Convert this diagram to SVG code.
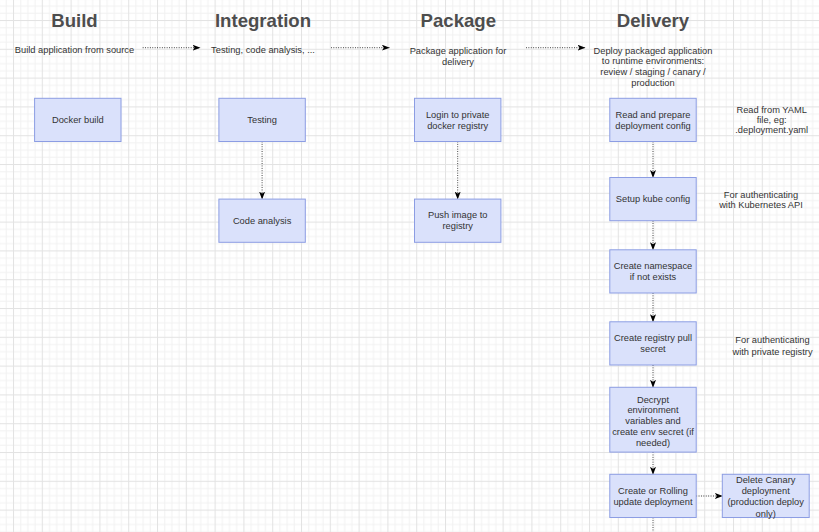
<svg xmlns="http://www.w3.org/2000/svg" width="819" height="532" viewBox="0 0 819 532">
<style>
.box{fill:#dae1fb;stroke:#8c9de3;stroke-width:1}
.t{font-family:"Liberation Sans",Arial,sans-serif;font-size:9.3px;fill:#333;text-anchor:middle}
.h{font-family:"Liberation Sans",Arial,sans-serif;font-size:18.6px;font-weight:bold;fill:#4d4d4d;text-anchor:middle}
.c{fill:none;stroke:#000;stroke-width:0.8;stroke-dasharray:0.9 1.5}
</style>
<defs>
<pattern id="grid" patternUnits="userSpaceOnUse" x="13" y="20" width="28.8" height="28.8">
<rect x="0" y="0" width="28.8" height="28.8" fill="#fff"/>
<g fill="#f2f2f2">
<rect x="7.2" y="0" width="1" height="28.8"/>
<rect x="14.4" y="0" width="1" height="28.8"/>
<rect x="21.6" y="0" width="1" height="28.8"/>
<rect x="0" y="7.2" width="28.8" height="1"/>
<rect x="0" y="14.4" width="28.8" height="1"/>
<rect x="0" y="21.6" width="28.8" height="1"/>
</g>
<g fill="#e3e3e3">
<rect x="0" y="0" width="1" height="28.8"/>
<rect x="0" y="0" width="28.8" height="1"/>
</g>
</pattern>
<marker id="ah" viewBox="0 0 8 6" refX="7.5" refY="3" markerWidth="8" markerHeight="6" markerUnits="userSpaceOnUse" orient="auto">
<path d="M0,0 L8,3 L0,6 L2,3 Z" fill="#000"/>
</marker>
</defs>
<rect x="0" y="0" width="819" height="532" fill="url(#grid)"/>

<g id="headers">
<text class="h" x="74.5" y="26.5">Build</text>
<text class="h" x="263" y="26.5">Integration</text>
<text class="h" x="458.3" y="26.5">Package</text>
<text class="h" x="653" y="26.5">Delivery</text>
<text class="t" x="74.5" y="53.2">Build application from source</text>
<text class="t" x="263" y="53.2">Testing, code analysis, ...</text>
<text class="t" x="458" y="53.5">Package application for<tspan x="458" dy="11">delivery</tspan></text>
<text class="t" x="653" y="53.8">Deploy packaged application<tspan x="653" dy="10.6">to runtime environments:</tspan><tspan x="653" dy="10.6">review / staging / canary /</tspan><tspan x="653" dy="10.6">production</tspan></text>
</g>

<g id="notes">
<text class="t" x="771.7" y="113.3">Read from YAML<tspan x="771.7" dy="10">file, eg:</tspan><tspan x="771.7" dy="10">.deployment.yaml</tspan></text>
<text class="t" x="761" y="197.6">For authenticating<tspan x="761" dy="10.8">with Kubernetes API</tspan></text>
<text class="t" x="772.5" y="342.5">For authenticating<tspan x="772.5" dy="12">with private registry</tspan></text>
</g>

<g id="connectors">
<path class="c" d="M142.7,47.7 H200" marker-end="url(#ah)"/>
<path class="c" d="M331,47.7 H389.3" marker-end="url(#ah)"/>
<path class="c" d="M526,47.7 H585" marker-end="url(#ah)"/>
<path class="c" d="M262.1,141.5 V199.1" marker-end="url(#ah)"/>
<path class="c" d="M457.7,141.5 V199.1" marker-end="url(#ah)"/>
<path class="c" d="M653,141.5 V177.5" marker-end="url(#ah)"/>
<path class="c" d="M653,220.7 V249.8" marker-end="url(#ah)"/>
<path class="c" d="M653,293 V321.8" marker-end="url(#ah)"/>
<path class="c" d="M653,365 V387.3" marker-end="url(#ah)"/>
<path class="c" d="M653,452.1 V474.3" marker-end="url(#ah)"/>
<path class="c" d="M696.2,496 H722.3" marker-end="url(#ah)"/>
<path class="c" d="M653,517.5 V532"/>
</g>

<g id="docker-build"><rect class="box" x="34.6" y="98.3" width="86.4" height="43.2"/><text class="t" x="77.8" y="123.2">Docker build</text></g>
<g id="testing"><rect class="box" x="218.9" y="98.3" width="86.4" height="43.2"/><text class="t" x="262.1" y="123.2">Testing</text></g>
<g id="code-analysis"><rect class="box" x="218.9" y="199.1" width="86.4" height="43.2"/><text class="t" x="262.1" y="224">Code analysis</text></g>
<g id="login"><rect class="box" x="414.5" y="98.3" width="86.4" height="43.2"/><text class="t" x="457.7" y="117.6">Login to private<tspan x="457.7" dy="11">docker registry</tspan></text></g>
<g id="push"><rect class="box" x="414.5" y="199.1" width="86.4" height="43.2"/><text class="t" x="457.7" y="218.4">Push image to<tspan x="457.7" dy="11">registry</tspan></text></g>
<g id="read-config"><rect class="box" x="609.8" y="98.3" width="86.4" height="43.2"/><text class="t" x="653" y="117.6">Read and prepare<tspan x="653" dy="11">deployment config</tspan></text></g>
<g id="kube-config"><rect class="box" x="609.8" y="177.5" width="86.4" height="43.2"/><text class="t" x="653" y="202.4">Setup kube config</text></g>
<g id="namespace"><rect class="box" x="609.8" y="249.8" width="86.4" height="43.2"/><text class="t" x="653" y="269.1">Create namespace<tspan x="653" dy="11">if not exists</tspan></text></g>
<g id="pull-secret"><rect class="box" x="609.8" y="321.8" width="86.4" height="43.2"/><text class="t" x="653" y="341.1">Create registry pull<tspan x="653" dy="11">secret</tspan></text></g>
<g id="decrypt"><rect class="box" x="609.8" y="387.3" width="86.4" height="64.8"/><text class="t" x="653" y="402.5">Decrypt<tspan x="653" dy="10.9">environment</tspan><tspan x="653" dy="10.9">variables and</tspan><tspan x="653" dy="10.9">create env secret (if</tspan><tspan x="653" dy="10.9">needed)</tspan></text></g>
<g id="rolling-update"><rect class="box" x="609.8" y="474.3" width="86.4" height="43.2"/><text class="t" x="653" y="493.6">Create or Rolling<tspan x="653" dy="11">update deployment</tspan></text></g>
<g id="delete-canary"><rect class="box" x="722.3" y="474.3" width="86.9" height="43.2"/><text class="t" x="765.7" y="483.2">Delete Canary<tspan x="765.7" dy="11.1">deployment</tspan><tspan x="765.7" dy="11.1">(production deploy</tspan><tspan x="765.7" dy="11.1">only)</tspan></text></g>
</svg>
